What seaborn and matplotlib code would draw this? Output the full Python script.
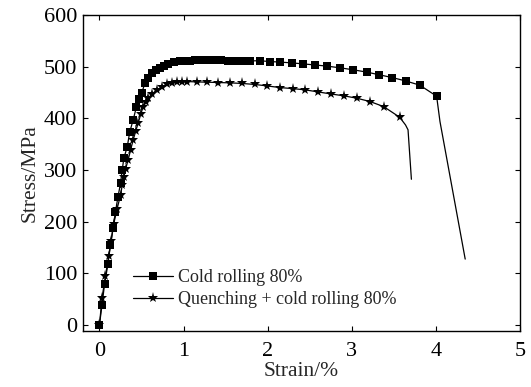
import numpy as np
import pandas as pd
import seaborn as sns
import matplotlib
matplotlib.use('Agg')
import matplotlib.pyplot as plt

# Cold rolling 80% (square markers), last two points are the fracture tail
cold_strain = [0, 0.03, 0.06, 0.10, 0.13, 0.16, 0.19, 0.22, 0.25, 0.27, 0.29, 0.33, 0.36,
               0.40, 0.44, 0.47, 0.50, 0.54, 0.58, 0.62, 0.67, 0.72, 0.77, 0.82, 0.89, 0.96,
               1.02, 1.08, 1.14, 1.22, 1.29, 1.37, 1.45, 1.53, 1.61, 1.69, 1.79, 1.91, 2.03,
               2.15, 2.29, 2.42, 2.56, 2.71, 2.86, 3.02, 3.18, 3.33, 3.48, 3.64, 3.81, 4.01,
               4.05, 4.35]
cold_stress = [0, 38, 78, 117, 154, 187, 219, 248, 274, 300, 323, 345, 374,
               397, 423, 437, 449, 468, 479, 488, 494, 498, 502, 506, 509, 511,
               512, 512.5, 513, 513, 513, 513, 513, 512.5, 512, 512, 512, 512, 510.6,
               509.4, 508, 506, 504, 501.6, 498.4, 494.5, 490, 484.8, 479.5, 473, 464.7, 443.3,
               394, 127]
cold_tail = 2

# Quenching + cold rolling 80% (star markers), last three points are the fracture tail
quench_strain = [0, 0.03, 0.07, 0.11, 0.14, 0.17, 0.21, 0.25, 0.27, 0.29, 0.31, 0.34, 0.37,
                 0.40, 0.43, 0.46, 0.49, 0.52, 0.55, 0.58, 0.63, 0.68, 0.74, 0.80, 0.86, 0.92,
                 0.98, 1.04, 1.16, 1.28, 1.41, 1.55, 1.70, 1.85, 1.99, 2.15, 2.30, 2.45, 2.60,
                 2.75, 2.91, 3.06, 3.22, 3.38, 3.57, 3.64, 3.67, 3.71]
quench_stress = [0, 51, 94, 133, 163, 196, 225, 251, 270, 287, 302, 319, 339,
                 358, 375, 391, 408, 423, 432, 439, 448, 455.6, 461, 466.6, 469, 470.5,
                 471, 471.7, 471, 470.5, 469.8, 469.2, 468, 466, 463.3, 460, 458, 455.5, 451.6,
                 447.7, 443.9, 439.4, 432.8, 423.1, 402.5, 387.5, 378, 282]
quench_tail = 3

labels = ['Cold rolling 80%', 'Quenching + cold rolling 80%']

cold = pd.DataFrame({'strain': cold_strain, 'stress': cold_stress})
quench = pd.DataFrame({'strain': quench_strain, 'stress': quench_stress})

sns.set_style('ticks')
plt.rcParams['font.family'] = ['Liberation Serif', 'DejaVu Serif']

fig = plt.figure(figsize=(5.31, 3.87), dpi=100)
ax = fig.add_axes([0.1557, 0.1455, 0.979 - 0.1557, 0.96 - 0.1455])

sns.lineplot(data=cold, x='strain', y='stress', ax=ax, color='black', lw=0.9,
             marker='s', markersize=5.1, markeredgewidth=0,
             markevery=list(range(len(cold_strain) - cold_tail)),
             sort=False, estimator=None, label=labels[0])
sns.lineplot(data=quench, x='strain', y='stress', ax=ax, color='black', lw=0.9,
             marker='*', markersize=8, markeredgewidth=0,
             markevery=list(range(len(quench_strain) - quench_tail)),
             sort=False, estimator=None, label=labels[1])

ax.set_xlim(-0.2, 5)
ax.set_ylim(-12, 600)
ax.set_xticks([0, 1, 2, 3, 4, 5])
ax.set_yticks([0, 100, 200, 300, 400, 500, 600])
ax.tick_params(direction='in', length=3.5, width=0.8, top=True, right=True,
               labelsize=16, colors='black')
ax.tick_params(axis='x', pad=8)
ax.tick_params(axis='y', pad=4)
for s in ax.spines.values():
    s.set_linewidth(1.0)
    s.set_color('black')

ax.set_xlabel('Strain/%', fontsize=15.5, labelpad=1)
ax.set_ylabel('Stress/MPa', fontsize=15.5, labelpad=3)

ax.legend(loc='center left', bbox_to_anchor=(0.115, 0.133), frameon=False,
          fontsize=13, handlelength=2.2, handletextpad=0.3, labelspacing=0.3,
          borderpad=0, borderaxespad=0)

fig.savefig('out.png', dpi=100)
